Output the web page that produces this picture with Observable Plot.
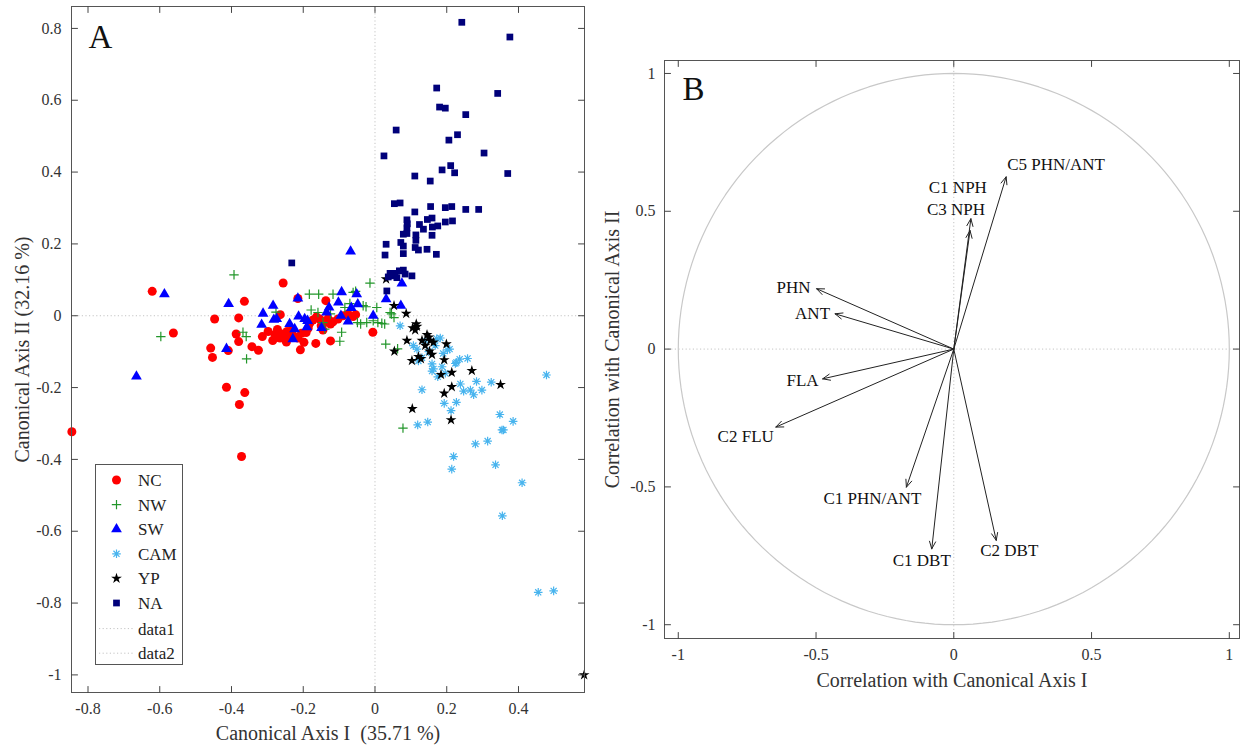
<!DOCTYPE html>
<html><head><meta charset="utf-8">
<script src="https://cdn.jsdelivr.net/npm/d3@7"></script>
<script src="https://cdn.jsdelivr.net/npm/@observablehq/plot@0.6"></script>
<style>
html,body{margin:0;padding:0;background:#fff;}
#root{position:relative;width:1241px;height:748px;overflow:hidden;background:#fff;}
#root svg{position:absolute;}
</style></head><body><div id="root"></div>
<script>
// ---------------- DATA ----------------
const groupNames = ["NC", "NW", "SW", "CAM", "YP", "NA"];

const NC = [
[-0.845,-0.323],[-0.621,0.068],[-0.562,-0.048],[-0.447,-0.009],[-0.458,-0.090],[-0.453,-0.116],
[-0.414,-0.199],[-0.409,-0.097],[-0.387,-0.051],[-0.380,-0.072],[-0.380,-0.006],[-0.378,-0.247],
[-0.372,-0.392],[-0.363,-0.214],[-0.364,0.040],[-0.343,-0.086],[-0.325,-0.096],[-0.314,-0.058],
[-0.298,-0.044],[-0.285,-0.069],[-0.279,-0.052],[-0.264,0.003],[-0.256,0.091],[-0.258,-0.051],
[-0.252,-0.064],[-0.245,-0.044],[-0.238,-0.058],[-0.227,-0.056],[-0.247,-0.073],[-0.265,-0.062],
[-0.215,0.048],[-0.215,-0.062],[-0.205,-0.049],[-0.208,-0.095],[-0.198,-0.074],[-0.192,-0.047],
[-0.182,-0.021],[-0.173,-0.012],[-0.165,-0.077],[-0.163,-0.003],[-0.154,-0.009],[-0.145,-0.040],
[-0.140,-0.019],[-0.137,0.042],[-0.124,-0.070],[-0.124,-0.023],[-0.117,-0.017],[-0.103,-0.009],
[-0.089,0.000],[-0.075,0.005],[-0.061,-0.002],[-0.054,0.003],[-0.006,-0.046],[-0.232,-0.040],
[-0.186,-0.034],[-0.150,-0.028],[-0.131,-0.008],[-0.272,-0.038]
];
const NW = [
[-0.597,-0.058],[-0.393,0.114],[-0.368,-0.046],[-0.359,-0.058],[-0.358,-0.120],[-0.276,0.010],
[-0.183,0.060],[-0.178,0.016],[-0.157,0.060],[-0.159,0.009],[-0.145,-0.019],[-0.140,-0.037],
[-0.124,0.005],[-0.117,0.060],[-0.098,-0.071],[-0.093,-0.046],[-0.084,0.023],[-0.070,0.034],
[-0.061,0.065],[-0.054,0.068],[-0.049,-0.019],[-0.040,-0.023],[-0.033,0.028],[-0.025,0.025],
[-0.023,-0.019],[-0.014,0.091],[-0.005,-0.014],[0.005,0.023],[0.008,-0.019],[0.019,-0.021],
[0.027,-0.023],[0.030,-0.079],[0.042,0.009],[0.046,0.005],[0.053,-0.005],[0.063,-0.092],[0.078,-0.313]
];
const SW = [
[-0.665,-0.169],[-0.587,0.060],[-0.414,-0.092],[-0.408,0.033],[-0.316,-0.025],[-0.312,0.006],
[-0.284,0.028],[-0.282,-0.011],[-0.274,-0.009],[-0.238,-0.023],[-0.229,-0.065],[-0.224,-0.037],
[-0.215,0.048],[-0.213,-0.002],[-0.196,-0.009],[-0.188,-0.014],[-0.190,-0.032],[-0.149,-0.034],
[-0.135,0.009],[-0.128,0.023],[-0.102,0.037],[-0.093,0.066],[-0.095,0.000],[-0.075,-0.016],
[-0.066,0.022],[-0.068,0.179],[-0.051,0.060],[-0.048,0.032],[-0.005,0.000],[0.031,0.046],
[0.072,0.028],[0.075,0.090]
];
const CAM = [
[0.070,-0.028],[0.107,-0.083],[0.117,-0.093],[0.121,-0.126],[0.131,-0.117],[0.131,-0.206],
[0.119,-0.304],[0.147,-0.296],[0.159,-0.134],[0.163,-0.148],[0.159,-0.154],[0.168,-0.083],
[0.172,-0.064],[0.182,-0.062],[0.187,-0.142],[0.196,-0.160],[0.193,-0.244],[0.202,-0.095],
[0.208,-0.093],[0.212,-0.264],[0.214,-0.427],[0.219,-0.392],[0.224,-0.133],[0.227,-0.130],
[0.227,-0.241],[0.236,-0.121],[0.238,-0.190],[0.247,-0.210],[0.258,-0.119],[0.266,-0.207],
[0.275,-0.220],[0.283,-0.183],[0.298,-0.207],[0.280,-0.357],[0.314,-0.349],[0.324,-0.185],
[0.336,-0.415],[0.348,-0.275],[0.354,-0.318],[0.358,-0.318],[0.385,-0.294],[0.410,-0.465],
[0.355,-0.557],[0.478,-0.165],[0.455,-0.770],[0.498,-0.766],[0.150,-0.100],[0.140,-0.070],
[0.190,-0.105],[0.175,-0.170]
];
const YP = [
[0.031,0.102],[0.053,0.028],[0.087,0.006],[0.115,-0.023],[0.105,-0.034],[0.112,-0.040],
[0.117,-0.030],[0.089,-0.069],[0.054,-0.099],[0.131,-0.069],[0.145,-0.053],[0.140,-0.083],
[0.154,-0.069],[0.163,-0.074],[0.152,-0.099],[0.159,-0.108],[0.150,-0.060],[0.199,-0.079],
[0.121,-0.114],[0.103,-0.125],[0.128,-0.120],[0.193,-0.123],[0.184,-0.164],[0.214,-0.158],
[0.214,-0.198],[0.193,-0.216],[0.270,-0.153],[0.350,-0.192],[0.104,-0.259],[0.212,-0.290],
[0.583,-1.000]
];
const NA = [
[-0.232,0.147],[0.242,0.817],[0.376,0.776],[0.172,0.634],[0.342,0.619],[0.180,0.581],
[0.196,0.578],[0.253,0.560],[0.059,0.517],[0.230,0.504],[0.206,0.489],[0.025,0.445],
[0.304,0.453],[0.211,0.418],[0.187,0.406],[0.222,0.398],[0.370,0.396],[0.111,0.389],
[0.154,0.375],[0.054,0.312],[0.070,0.314],[0.155,0.304],[0.196,0.301],[0.214,0.304],
[0.253,0.296],[0.289,0.296],[0.111,0.289],[0.159,0.272],[0.146,0.268],[0.089,0.267],
[0.090,0.256],[0.089,0.245],[0.196,0.261],[0.216,0.264],[0.124,0.254],[0.135,0.241],
[0.160,0.247],[0.175,0.250],[0.079,0.227],[0.089,0.229],[0.114,0.225],[0.159,0.224],
[0.031,0.199],[0.072,0.204],[0.079,0.194],[0.114,0.210],[0.112,0.190],[0.121,0.183],
[0.145,0.185],[0.171,0.171],[0.028,0.169],[0.079,0.173],[0.042,0.118],[0.056,0.118],
[0.068,0.125],[0.079,0.127],[0.084,0.116],[0.103,0.111],[0.037,0.108],[0.051,0.111],
[0.061,0.106],[0.033,0.069]
];
const groupData = {NC, NW, SW, CAM, YP, NA};
const legendExtra = ["data1", "data2"];

const aXTicks = [-0.8, -0.6, -0.4, -0.2, 0, 0.2, 0.4];
const aYTicks = [-1, -0.8, -0.6, -0.4, -0.2, 0, 0.2, 0.4, 0.6, 0.8];
const bTicks = [-1, -0.5, 0, 0.5, 1];

const loadingNames = ["C5 PHN/ANT", "C1 NPH", "C3 NPH", "PHN", "ANT", "FLA", "C2 FLU", "C1 PHN/ANT", "C1 DBT", "C2 DBT"];
const loadingX = [0.190, 0.062, 0.059, -0.498, -0.431, -0.476, -0.646, -0.172, -0.080, 0.154];
const loadingY = [0.625, 0.473, 0.430, 0.219, 0.128, -0.108, -0.283, -0.501, -0.725, -0.694];

const titleA_x = "Canonical Axis I\u00a0 (35.71 %)";
const titleA_y = "Canonical Axis II (32.16 %)";
const titleB_x = "Correlation with Canonical Axis I";
const titleB_y = "Correlation with Canonical Axis II";

// ---------------- STYLE ----------------
const SERIF = "'Liberation Serif','Times New Roman',Times,serif";
const plusSym = {draw(ctx, size) { const r = Math.sqrt(size / Math.PI); ctx.moveTo(-r, 0); ctx.lineTo(r, 0); ctx.moveTo(0, -r); ctx.lineTo(0, r); }};
const asteriskSym = {draw(ctx, size) { const r = Math.sqrt(size / Math.PI), d = r * Math.SQRT1_2;
  ctx.moveTo(-r, 0); ctx.lineTo(r, 0); ctx.moveTo(0, -r); ctx.lineTo(0, r);
  ctx.moveTo(-d, -d); ctx.lineTo(d, d); ctx.moveTo(-d, d); ctx.lineTo(d, -d); }};
const groupStyle = {
  NC:  {symbol: "circle", d3sym: d3.symbolCircle, r: 4.5, fill: "#ff0000", stroke: "none", strokeWidth: 0},
  NW:  {symbol: plusSym, d3sym: plusSym, r: 4.7, fill: "none", stroke: "#22962a", strokeWidth: 1.2},
  SW:  {symbol: "triangle", d3sym: d3.symbolTriangle, r: 4.0, fill: "#0000ff", stroke: "none", strokeWidth: 0},
  CAM: {symbol: asteriskSym, d3sym: asteriskSym, r: 4.3, fill: "none", stroke: "#48b4ee", strokeWidth: 1.2},
  YP:  {symbol: "star", d3sym: d3.symbolStar, r: 3.4, fill: "#000000", stroke: "none", strokeWidth: 0},
  NA:  {symbol: "square", d3sym: d3.symbolSquare, r: 3.8, fill: "#00007a", stroke: "none", strokeWidth: 0}
};
const fmt = d => String(Math.round(d * 10) / 10);
const tickShape = {draw(ctx, l) { ctx.moveTo(0, 0); ctx.lineTo(0, -l); }};
function frameTicks(xt, yt, xd, yd, len) {
  const o = {length: len, anchor: "start", shape: tickShape, stroke: "#444", strokeWidth: 1};
  return [
    Plot.vector(xt, {...o, x: d => d, y: yd[0], rotate: 0}),
    Plot.vector(xt, {...o, x: d => d, y: yd[1], rotate: 180}),
    Plot.vector(yt, {...o, y: d => d, x: xd[0], rotate: 90}),
    Plot.vector(yt, {...o, y: d => d, x: xd[1], rotate: -90})
  ];
}
const root = document.getElementById("root");

// ---------------- PANEL A ----------------
const aXD = [-0.846, 0.584], aYD = [-1.049, 0.861];
const chartA = Plot.plot({
  width: 600, height: 748,
  marginLeft: 71, marginRight: 16, marginTop: 6, marginBottom: 56,
  x: {domain: aXD}, y: {domain: aYD},
  style: {fontFamily: SERIF, fontSize: "16px", color: "#333", background: "white", overflow: "visible"},
  marks: [
    Plot.ruleX([0], {stroke: "#c4c4c4", strokeDasharray: "1.2,2.4", strokeWidth: 1}),
    Plot.ruleY([0], {stroke: "#c4c4c4", strokeDasharray: "1.2,2.4", strokeWidth: 1}),
    ...groupNames.map(g => {
      const s = groupStyle[g];
      return Plot.dot(groupData[g], {x: d => d[0], y: d => d[1], symbol: s.symbol, r: s.r,
        fill: s.fill, stroke: s.stroke, strokeWidth: s.strokeWidth});
    }),
    Plot.frame({stroke: "#555", strokeWidth: 1}),
    ...frameTicks(aXTicks, aYTicks, aXD, aYD, 6),
    Plot.axisX({ticks: aXTicks, tickSize: 0, tickPadding: 10, tickFormat: fmt, label: null, fontSize: 16}),
    Plot.axisY({ticks: aYTicks, tickSize: 0, tickPadding: 10, tickFormat: fmt, label: null, fontSize: 16}),
    Plot.text([titleA_x], {frameAnchor: "bottom", dy: 41, lineAnchor: "middle", textAnchor: "middle", fontSize: 20, fill: "#333"}),
    Plot.text([titleA_y], {frameAnchor: "left", dx: -49, rotate: -90, textAnchor: "middle", lineAnchor: "middle", fontSize: 20, fill: "#333"}),
    Plot.text(["A"], {frameAnchor: "top-left", dx: 17, dy: 31, fontSize: 33, textAnchor: "start", lineAnchor: "middle", fill: "#111"})
  ]
});
chartA.style.left = "0px"; chartA.style.top = "0px";
root.appendChild(chartA);

// legend
const leg = d3.create("svg").attr("width", 89).attr("height", 202)
  .style("left", "95px").style("top", "464px").style("font-family", SERIF);
leg.append("rect").attr("x", 0.5).attr("y", 0.5).attr("width", 87).attr("height", 200)
  .attr("fill", "white").attr("stroke", "#555").attr("stroke-width", 1);
const rowY = i => 16 + i * 24.6;
groupNames.forEach((g, i) => {
  const s = groupStyle[g];
  leg.append("path").attr("d", d3.symbol(s.d3sym, Math.PI * s.r * s.r)())
    .attr("transform", `translate(21.5,${rowY(i)})`)
    .attr("fill", s.fill).attr("stroke", s.stroke).attr("stroke-width", s.strokeWidth);
  leg.append("text").attr("x", 43).attr("y", rowY(i)).attr("dy", "0.35em")
    .attr("font-size", 17).attr("fill", "#222").text(g);
});
legendExtra.forEach((t, j) => {
  const y = rowY(groupNames.length + j) + 1;
  leg.append("line").attr("x1", 4).attr("x2", 38).attr("y1", y).attr("y2", y)
    .attr("stroke", "#c4c4c4").attr("stroke-dasharray", "1.2,2.4");
  leg.append("text").attr("x", 43).attr("y", y).attr("dy", "0.35em")
    .attr("font-size", 17).attr("fill", "#222").text(t);
});
root.appendChild(leg.node());

// ---------------- PANEL B ----------------
const bXD = [-1.05, 1.037], bYD = [-1.05, 1.047];
const labelPlacement = {
  "C5 PHN/ANT": {anchor: "start", dx: 1, dy: -12},
  "C1 NPH": {anchor: "end", dx: 16, dy: -31},
  "C3 NPH": {anchor: "end", dx: 15, dy: -21},
  "PHN": {anchor: "end", dx: -6, dy: -1},
  "ANT": {anchor: "end", dx: -5, dy: 0},
  "FLA": {anchor: "end", dx: -4, dy: 2},
  "C2 FLU": {anchor: "end", dx: -2, dy: 9},
  "C1 PHN/ANT": {anchor: "middle", dx: -34, dy: 11},
  "C1 DBT": {anchor: "middle", dx: -10, dy: 12},
  "C2 DBT": {anchor: "middle", dx: 13, dy: 10}
};
const circlePts = d3.range(0, 361, 2).map(a => [Math.cos(a * Math.PI / 180), Math.sin(a * Math.PI / 180)]);
const idx = loadingNames.map((_, i) => i);
const chartB = Plot.plot({
  width: 641, height: 748,
  marginLeft: 64, marginRight: 2, marginTop: 60, marginBottom: 110,
  x: {domain: bXD}, y: {domain: bYD},
  style: {fontFamily: SERIF, fontSize: "16px", color: "#333", background: "white", overflow: "visible"},
  marks: [
    Plot.ruleX([0], {stroke: "#c4c4c4", strokeDasharray: "1.2,2.4", strokeWidth: 1}),
    Plot.ruleY([0], {stroke: "#c4c4c4", strokeDasharray: "1.2,2.4", strokeWidth: 1}),
    Plot.line(circlePts, {x: d => d[0], y: d => d[1], stroke: "#c8c8c8", strokeWidth: 1.2}),
    Plot.arrow(idx, {x1: 0, y1: 0, x2: i => loadingX[i], y2: i => loadingY[i],
      headLength: 12, headAngle: 45, stroke: "#222", strokeWidth: 1}),
    ...idx.map(i => {
      const p = labelPlacement[loadingNames[i]];
      return Plot.text([i], {x: i => loadingX[i], y: i => loadingY[i], text: i => loadingNames[i],
        textAnchor: p.anchor, dx: p.dx, dy: p.dy, fontSize: 17, fill: "#111"});
    }),
    Plot.frame({stroke: "#555", strokeWidth: 1}),
    ...frameTicks(bTicks, bTicks, bXD, bYD, 6),
    Plot.axisX({ticks: bTicks, tickSize: 0, tickPadding: 10, tickFormat: fmt, label: null, fontSize: 16}),
    Plot.axisY({ticks: bTicks, tickSize: 0, tickPadding: 9, tickFormat: fmt, label: null, fontSize: 16}),
    Plot.text([titleB_x], {frameAnchor: "bottom", dy: 42, lineAnchor: "middle", textAnchor: "middle", fontSize: 20, fill: "#333"}),
    Plot.text([titleB_y], {frameAnchor: "left", dx: -52, rotate: -90, textAnchor: "middle", lineAnchor: "middle", fontSize: 20, fill: "#333"}),
    Plot.text(["B"], {frameAnchor: "top-left", dx: 18, dy: 29, fontSize: 33, textAnchor: "start", lineAnchor: "middle", fill: "#111"})
  ]
});
chartB.style.left = "600px"; chartB.style.top = "0px";
root.appendChild(chartB);
</script>
</body></html>
